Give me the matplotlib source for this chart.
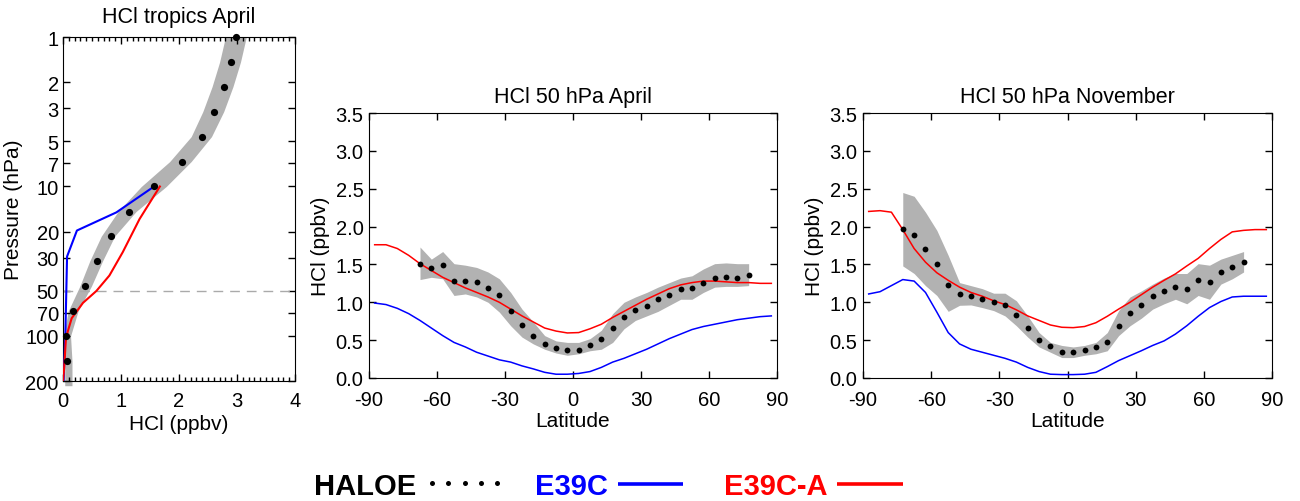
import numpy as np
import matplotlib
matplotlib.use("Agg")
import matplotlib.pyplot as plt
from matplotlib.ticker import FixedLocator, NullLocator, MultipleLocator

plt.rcParams['font.family'] = ['Liberation Sans', 'DejaVu Sans']

# ---------------- Panel 1: HCl tropics April ----------------
p_haloe = [1.0, 1.47, 2.15, 3.16, 4.64, 6.81, 10.0, 14.7, 21.5, 31.6, 46.4, 68.1, 100.0, 147.0]
hcl_haloe = [2.99, 2.89, 2.77, 2.61, 2.40, 2.05, 1.57, 1.14, 0.82, 0.59, 0.38, 0.17, 0.06, 0.075]

p_band = [1.0, 1.47, 2.15, 3.16, 4.64, 6.81, 10.0, 14.7, 21.5, 31.6, 46.4, 68.1, 100.0, 147.0, 215.0]
band_lo = [2.80, 2.70, 2.57, 2.41, 2.21, 1.84, 1.35, 0.95, 0.66, 0.46, 0.29, 0.09, 0.01, 0.03, 0.03]
band_hi = [3.16, 3.06, 2.93, 2.77, 2.56, 2.21, 1.78, 1.26, 0.89, 0.68, 0.49, 0.26, 0.13, 0.155, 0.155]

p_e39c = [10.0, 14.9, 19.7, 29.4, 100.0, 200.0]
hcl_e39c = [1.57, 0.92, 0.24, 0.07, 0.04, 0.01]

p_e39ca = [10.0, 16.5, 27.5, 39.4, 50.0, 60.0, 76.0, 91.0, 104.0, 164.0, 200.0]
hcl_e39ca = [1.67, 1.32, 1.03, 0.80, 0.575, 0.345, 0.15, 0.09, 0.05, 0.02, 0.0]

p_ticks = [1, 2, 3, 5, 7, 10, 20, 30, 50, 70, 100, 200]
p_ref = 50

# ---------------- Panels 2/3: 50 hPa latitude cross sections ----------------
lat_model = [-87.5, -82.5, -77.5, -72.5, -67.5, -62.5, -57.5, -52.5, -47.5, -42.5, -37.5, -32.5,
             -27.5, -22.5, -17.5, -12.5, -7.5, -2.5, 2.5, 7.5, 12.5, 17.5, 22.5, 27.5, 32.5,
             37.5, 42.5, 47.5, 52.5, 57.5, 62.5, 67.5, 72.5, 77.5, 82.5, 87.5]

# April
lat_apr = [-67.5, -62.5, -57.5, -52.5, -47.5, -42.5, -37.5, -32.5, -27.5, -22.5, -17.5, -12.5,
           -7.5, -2.5, 2.5, 7.5, 12.5, 17.5, 22.5, 27.5, 32.5, 37.5, 42.5, 47.5, 52.5, 57.5,
           62.5, 67.5, 72.5, 77.5]
haloe_apr = [1.51, 1.45, 1.49, 1.28, 1.28, 1.27, 1.19, 1.09, 0.89, 0.705, 0.56, 0.45,
             0.40, 0.37, 0.37, 0.43, 0.52, 0.66, 0.81, 0.90, 0.95, 1.04, 1.09, 1.17, 1.19, 1.25,
             1.32, 1.34, 1.32, 1.36]
apr_lo = [1.30, 1.33, 1.31, 1.09, 1.11, 1.07, 1.00, 0.87, 0.69, 0.54, 0.45, 0.38,
          0.33, 0.30, 0.32, 0.36, 0.38, 0.47, 0.65, 0.76, 0.82, 0.88, 0.96, 1.04, 1.04, 1.13,
          1.20, 1.21, 1.21, 1.22]
apr_hi = [1.73, 1.57, 1.67, 1.51, 1.49, 1.46, 1.40, 1.31, 1.13, 0.91, 0.74, 0.56,
          0.49, 0.47, 0.47, 0.52, 0.63, 0.85, 1.00, 1.07, 1.13, 1.20, 1.26, 1.32, 1.35, 1.44,
          1.51, 1.52, 1.51, 1.51]
e39ca_apr = [1.76, 1.76, 1.71, 1.62, 1.51, 1.42, 1.33, 1.26, 1.19, 1.13, 1.07, 1.00,
             0.91, 0.82, 0.74, 0.66, 0.62, 0.595, 0.60, 0.65, 0.71, 0.80, 0.88, 0.96, 1.04,
             1.11, 1.18, 1.23, 1.26, 1.28, 1.28, 1.27, 1.26, 1.26, 1.25, 1.25]
e39c_apr = [0.99, 0.97, 0.92, 0.85, 0.76, 0.66, 0.56, 0.47, 0.41, 0.34, 0.29, 0.24,
            0.21, 0.16, 0.12, 0.075, 0.05, 0.05, 0.06, 0.085, 0.14, 0.21, 0.26, 0.32, 0.38,
            0.45, 0.52, 0.58, 0.64, 0.68, 0.71, 0.74, 0.77, 0.79, 0.81, 0.82]

# November
lat_nov = [-72.5, -67.5, -62.5, -57.5, -52.5, -47.5, -42.5, -37.5, -32.5, -27.5, -22.5, -17.5,
           -12.5, -7.5, -2.5, 2.5, 7.5, 12.5, 17.5, 22.5, 27.5, 32.5, 37.5, 42.5, 47.5, 52.5,
           57.5, 62.5, 67.5, 72.5, 77.5]
haloe_nov = [1.97, 1.89, 1.70, 1.51, 1.23, 1.11, 1.08, 1.05, 1.00, 0.97, 0.83, 0.66,
             0.50, 0.42, 0.35, 0.34, 0.37, 0.41, 0.48, 0.69, 0.86, 0.97, 1.08, 1.15, 1.20, 1.17,
             1.30, 1.27, 1.40, 1.47, 1.53]
nov_lo = [1.48, 1.38, 1.22, 1.09, 0.88, 0.96, 0.965, 0.93, 0.89, 0.82, 0.69, 0.54,
          0.41, 0.34, 0.27, 0.27, 0.30, 0.32, 0.36, 0.56, 0.69, 0.79, 0.91, 0.98, 1.04, 0.98,
          1.09, 1.04, 1.24, 1.31, 1.40]
nov_hi = [2.45, 2.40, 2.19, 1.95, 1.62, 1.26, 1.22, 1.18, 1.12, 1.12, 1.02, 0.82,
          0.60, 0.47, 0.43, 0.41, 0.43, 0.47, 0.60, 0.89, 1.07, 1.15, 1.24, 1.32, 1.38, 1.38,
          1.51, 1.49, 1.57, 1.62, 1.67]
e39ca_nov = [2.20, 2.21, 2.19, 1.96, 1.71, 1.53, 1.39, 1.29, 1.20, 1.13, 1.08, 1.02,
             0.97, 0.90, 0.82, 0.76, 0.70, 0.67, 0.665, 0.68, 0.73, 0.815, 0.91, 1.00, 1.10,
             1.20, 1.29, 1.375, 1.48, 1.58, 1.71, 1.83, 1.93, 1.95, 1.96, 1.96]
e39c_nov = [1.11, 1.14, 1.22, 1.30, 1.28, 1.13, 0.87, 0.60, 0.45, 0.38, 0.34, 0.30,
            0.26, 0.21, 0.14, 0.085, 0.05, 0.045, 0.045, 0.05, 0.075, 0.15, 0.23, 0.295, 0.36,
            0.43, 0.49, 0.58, 0.69, 0.815, 0.93, 1.01, 1.07, 1.08, 1.08, 1.08]

lat_ticks = [-90, -60, -30, 0, 30, 60, 90]
hcl_ticks = [0.0, 0.5, 1.0, 1.5, 2.0, 2.5, 3.0, 3.5]

BAND = '#b2b2b2'
BLUE = '#0000ff'
RED = '#ff0000'
FS = 14.5
LBL = 15
TFS = 15.5

fig = plt.figure(figsize=(13, 5.02), dpi=100)

# ---- Panel 1
ax1 = fig.add_axes([63/1300, 1-382/502, 232/1300, 344/502])
ax1.fill_betweenx(p_band, band_lo, band_hi, color=BAND, lw=0, clip_on=False, zorder=1)
ax1.axhline(p_ref, color='#aaaaaa', lw=1.0, dashes=(7, 5), zorder=2)
ax1.plot(hcl_e39c, p_e39c, color=BLUE, lw=1.5, zorder=3)
ax1.plot(hcl_e39ca, p_e39ca, color=RED, lw=1.5, zorder=4)
ax1.plot(hcl_haloe, p_haloe, 'o', color='black', ms=5.2, mew=0, zorder=5, clip_on=False)
ax1.set_yscale('log')
ax1.set_ylim(200, 1)
ax1.set_xlim(0, 4)
ax1.yaxis.set_major_locator(FixedLocator(p_ticks))
ax1.yaxis.set_minor_locator(NullLocator())
ax1.set_yticklabels([str(t) for t in p_ticks])
ax1.xaxis.set_major_locator(MultipleLocator(1))
ax1.xaxis.set_minor_locator(MultipleLocator(0.1))
ax1.tick_params(which='both', direction='in', top=True, right=True, labelsize=FS)
ax1.tick_params(axis='y', pad=3)
ax1.tick_params(axis='x', pad=7)
ax1.tick_params(which='major', length=5, width=1)
ax1.tick_params(which='minor', length=3, width=1)
ax1.set_xlabel('HCl (ppbv)', fontsize=LBL, labelpad=3)
ax1.set_ylabel('Pressure (hPa)', fontsize=LBL, labelpad=2)
ax1.set_title('HCl tropics April', fontsize=TFS, pad=11)

# ---- Panels 2, 3
def lat_panel(rect, title, lat_h, hal, lo, hi, e39c, e39ca):
    ax = fig.add_axes(rect)
    ax.fill_between(lat_h, lo, hi, color=BAND, lw=0, zorder=1)
    ax.plot(lat_model, e39c, color=BLUE, lw=1.1, zorder=3)
    ax.plot(lat_model, e39ca, color=RED, lw=1.1, zorder=4)
    ax.plot(lat_h, hal, 'o', color='black', ms=4.2, mew=0, zorder=5)
    ax.set_xlim(-90, 90)
    ax.set_ylim(0, 3.5)
    ax.xaxis.set_major_locator(FixedLocator(lat_ticks))
    ax.yaxis.set_major_locator(FixedLocator(hcl_ticks))
    ax.set_yticklabels(['%.1f' % v for v in hcl_ticks])
    ax.set_xticklabels([str(v) for v in lat_ticks])
    ax.tick_params(direction='in', top=True, right=True, labelsize=FS, length=5, width=1)
    ax.tick_params(axis='y', pad=4)
    ax.tick_params(axis='x', pad=9)
    ax.set_xlabel('Latitude', fontsize=LBL, labelpad=1)
    ax.set_ylabel('HCl (ppbv)', fontsize=LBL, labelpad=4)
    ax.set_title(title, fontsize=TFS, pad=8)
    return ax

lat_panel([369/1300, 1-379/502, 408/1300, 265/502], 'HCl 50 hPa April',
          lat_apr, haloe_apr, apr_lo, apr_hi, e39c_apr, e39ca_apr)
lat_panel([863/1300, 1-379/502, 409/1300, 265/502], 'HCl 50 hPa November',
          lat_nov, haloe_nov, nov_lo, nov_hi, e39c_nov, e39ca_nov)

# ---- Legend (figure level)
yb = (502 - 495) / 502
LFS = 21
fig.text(314/1300, yb, 'HALOE', fontsize=LFS, fontweight='bold', color='black', va='baseline', ha='left')
fig.text(535/1300, yb, 'E39C', fontsize=LFS, fontweight='bold', color=BLUE, va='baseline', ha='left')
fig.text(724/1300, yb, 'E39C-A', fontsize=LFS, fontweight='bold', color=RED, va='baseline', ha='left')
legax = fig.add_axes([0, 0, 1, 1], facecolor='none')
legax.set_xlim(0, 1300)
legax.set_ylim(502, 0)
legax.axis('off')
legax.plot(np.linspace(432, 497, 5), [484]*5, 'o', color='black', ms=3.6, mew=0)
legax.plot([618, 683], [485, 485], color=BLUE, lw=2.6, solid_capstyle='butt')
legax.plot([837, 903], [485, 485], color=RED, lw=2.6, solid_capstyle='butt')

fig.savefig('out.png', dpi=100)
